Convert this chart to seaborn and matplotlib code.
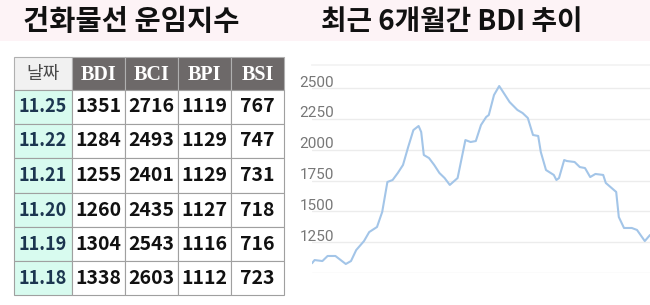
import matplotlib
matplotlib.use("Agg")
import matplotlib.pyplot as plt
import matplotlib.transforms as mtransforms
from matplotlib.patches import Rectangle
import seaborn as sns
import pandas as pd

# ---------------- data ----------------
title_left = "건화물선 운임지수"
title_right = "최근 6개월간 BDI 추이"

table_header = ["날짜", "BDI", "BCI", "BPI", "BSI"]
dates = ["11.25", "11.22", "11.21", "11.20", "11.19", "11.18"]
bdi_tab = [1351, 1284, 1255, 1260, 1304, 1338]
bci_tab = [2716, 2493, 2401, 2435, 2543, 2603]
bpi_tab = [1119, 1129, 1129, 1127, 1116, 1112]
bsi_tab = [767, 747, 731, 718, 716, 723]

days = [0, 1, 4, 6, 9, 13, 15, 17, 20, 22, 25, 27, 29, 31, 33, 35, 37, 39, 41, 42,
        43, 45, 47, 49, 51, 53, 56, 59, 61, 63, 65, 67, 68, 70, 72, 73, 76, 79, 81,
        83, 85, 87, 88, 90, 93, 94, 95, 97, 98, 101, 103, 105, 107, 109, 112, 113,
        117, 118, 120, 123, 125, 128, 130]
bdi_series = [1079, 1105, 1097, 1138, 1138, 1073, 1097, 1186, 1259, 1332, 1373, 1495,
              1738, 1754, 1811, 1876, 2022, 2159, 2192, 2143, 1957, 1932, 1876, 1811,
              1770, 1714, 1770, 2078, 2062, 2070, 2200, 2265, 2281, 2443, 2516, 2484,
              2386, 2322, 2297, 2257, 2119, 2111, 1981, 1835, 1795, 1754, 1770, 1916,
              1908, 1900, 1859, 1851, 1778, 1803, 1795, 1730, 1657, 1454, 1365, 1365,
              1349, 1259, 1308]
y_ticks = [1000, 1250, 1500, 1750, 2000, 2250, 2500]
y_tick_labels = ["", "1250", "1500", "1750", "2000", "2250", "2500"]

# ---------------- figure ----------------
sns.set_theme(style="white")
plt.rcParams['font.family'] = ['Noto Sans CJK KR', 'DejaVu Sans']

W, H = 650, 305
fig = plt.figure(figsize=(W / 100, H / 100), dpi=100)
fig.patch.set_facecolor("white")

bg = fig.add_axes([0, 0, 1, 1])
bg.set_xlim(0, W)
bg.set_ylim(H, 0)
bg.axis("off")

bg.add_patch(Rectangle((0, 0), W, 41, facecolor="#fdf3f6", edgecolor="none", zorder=0))
bg.text(131, 22, title_left, ha="center", va="center", fontsize=20.5, fontweight="black",
        color="#111111")
bg.text(452, 22, title_right, ha="center", va="center", fontsize=20, fontweight="black",
        color="#111111")

col_edges = [14, 72, 125, 178, 231, 284]
row_edges = [57, 90, 124, 158, 193, 227, 261, 295]

for j, h in enumerate(table_header):
    x0, x1 = col_edges[j], col_edges[j + 1]
    y0, y1 = row_edges[0], row_edges[1]
    if j == 0:
        bg.add_patch(Rectangle((x0, y0), x1 - x0, y1 - y0, facecolor="#f1f1f1",
                               edgecolor="#b0b0b0", lw=0.8, zorder=1))
        bg.text((x0 + x1) / 2, (y0 + y1) / 2, h, ha="center", va="center",
                fontsize=13, color="#4a4a4a", zorder=3)
    else:
        bg.add_patch(Rectangle((x0, y0), x1 - x0, y1 - y0, facecolor="#6d6969",
                               edgecolor="#b0b0b0", lw=0.8, zorder=1))
        bg.text((x0 + x1) / 2, (y0 + y1) / 2 + 1, h, ha="center", va="center",
                fontsize=14.5, fontweight="bold", family="Liberation Serif",
                color="white", zorder=3)

cols = [bdi_tab, bci_tab, bpi_tab, bsi_tab]
for i, d in enumerate(dates):
    y0, y1 = row_edges[i + 1], row_edges[i + 2]
    yc = (y0 + y1) / 2
    bg.add_patch(Rectangle((col_edges[0], y0), col_edges[1] - col_edges[0], y1 - y0,
                           facecolor="#d8fbef", edgecolor="#a0a0a0", lw=0.8, zorder=1))
    bg.text((col_edges[0] + col_edges[1]) / 2, yc, d, ha="center", va="center",
            fontsize=13, fontweight="bold", color="#1c3650", zorder=3)
    for j, c in enumerate(cols):
        x0, x1 = col_edges[j + 1], col_edges[j + 2]
        bg.add_patch(Rectangle((x0, y0), x1 - x0, y1 - y0, facecolor="white",
                               edgecolor="#a0a0a0", lw=0.8, zorder=1))
        bg.text((x0 + x1) / 2, yc, str(c[i]), ha="center", va="center",
                fontsize=14, fontweight="bold", color="#111111", zorder=3)

# ---------------- line chart ----------------
ax_l, ax_r, ax_t, ax_b = 312, 650, 65, 273
ax = fig.add_axes([ax_l / W, 1 - ax_b / H, (ax_r - ax_l) / W, (ax_b - ax_t) / H])
ax.set_facecolor("none")
df = pd.DataFrame({"day": days, "BDI": bdi_series})
sns.lineplot(data=df, x="day", y="BDI", ax=ax, color="#a3c5e8", linewidth=1.5)
ax.set_xlim(0, 130)
ax.set_ylim(1000, 1000 + (ax_b - ax_t) * 1500 / 185)
for s in ["left", "right", "bottom"]:
    ax.spines[s].set_visible(False)
ax.spines["top"].set_color("#f3f3f3")
ax.set_xticks([])
ax.set_yticks([])
ax.set_xlabel("")
ax.set_ylabel("")
for v in y_ticks:
    ax.axhline(v, color="#ececec", lw=1.0, zorder=0)
trans = mtransforms.blended_transform_factory(ax.transAxes, ax.transData)
for v, lab in zip(y_ticks, y_tick_labels):
    if lab:
        ax.annotate(lab, xy=(22 / (ax_r - ax_l), v), xycoords=trans,
                    xytext=(0, 1.0), textcoords="offset points",
                    ha="right", va="baseline", fontsize=11, family="Roboto",
                    color="#777777", annotation_clip=False)

fig.savefig("out.png", dpi=100)
